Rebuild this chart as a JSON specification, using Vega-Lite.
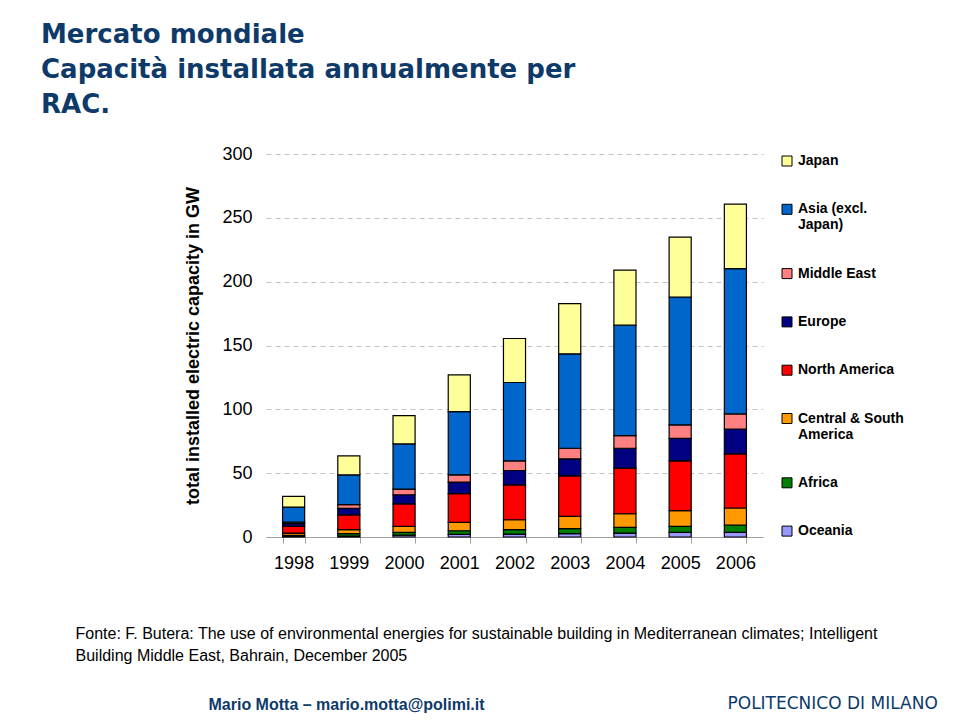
{
  "$schema": "https://vega.github.io/schema/vega-lite/v6.json",
  "width": 497,
  "height": 383,
  "autosize": {"type": "none"},
  "padding": {"left": 266, "top": 154, "right": 197, "bottom": 183},
  "background": "white",
  "title": {
    "text": ["Mercato mondiale", "Capacità installata annualmente per", "RAC."],
    "font": "DejaVu Sans",
    "fontSize": 26,
    "fontWeight": "bold",
    "color": "#0E3A6A",
    "anchor": "start",
    "frame": "group",
    "dx": -225,
    "offset": 27,
    "lineHeight": 35
  },
  "data": {
    "values": [
      {"year": "1998", "region": "Oceania", "k": 1, "value": 0.5},
      {"year": "1998", "region": "Africa", "k": 2, "value": 0.7},
      {"year": "1998", "region": "Central & South America", "k": 3, "value": 1.8},
      {"year": "1998", "region": "North America", "k": 4, "value": 5.3},
      {"year": "1998", "region": "Europe", "k": 5, "value": 2.1},
      {"year": "1998", "region": "Middle East", "k": 6, "value": 1.3},
      {"year": "1998", "region": "Asia (excl. Japan)", "k": 7, "value": 11.7},
      {"year": "1998", "region": "Japan", "k": 8, "value": 8.4},
      {"year": "1999", "region": "Oceania", "k": 1, "value": 0.8},
      {"year": "1999", "region": "Africa", "k": 2, "value": 1.8},
      {"year": "1999", "region": "Central & South America", "k": 3, "value": 3.1},
      {"year": "1999", "region": "North America", "k": 4, "value": 11.7},
      {"year": "1999", "region": "Europe", "k": 5, "value": 5.0},
      {"year": "1999", "region": "Middle East", "k": 6, "value": 2.9},
      {"year": "1999", "region": "Asia (excl. Japan)", "k": 7, "value": 23.4},
      {"year": "1999", "region": "Japan", "k": 8, "value": 14.8},
      {"year": "2000", "region": "Oceania", "k": 1, "value": 1.5},
      {"year": "2000", "region": "Africa", "k": 2, "value": 2.1},
      {"year": "2000", "region": "Central & South America", "k": 3, "value": 4.7},
      {"year": "2000", "region": "North America", "k": 4, "value": 17.7},
      {"year": "2000", "region": "Europe", "k": 5, "value": 7.1},
      {"year": "2000", "region": "Middle East", "k": 6, "value": 4.4},
      {"year": "2000", "region": "Asia (excl. Japan)", "k": 7, "value": 35.4},
      {"year": "2000", "region": "Japan", "k": 8, "value": 22.1},
      {"year": "2001", "region": "Oceania", "k": 1, "value": 2.0},
      {"year": "2001", "region": "Africa", "k": 2, "value": 2.9},
      {"year": "2001", "region": "Central & South America", "k": 3, "value": 6.6},
      {"year": "2001", "region": "North America", "k": 4, "value": 22.4},
      {"year": "2001", "region": "Europe", "k": 5, "value": 9.1},
      {"year": "2001", "region": "Middle East", "k": 6, "value": 5.7},
      {"year": "2001", "region": "Asia (excl. Japan)", "k": 7, "value": 49.5},
      {"year": "2001", "region": "Japan", "k": 8, "value": 28.8},
      {"year": "2002", "region": "Oceania", "k": 1, "value": 2.3},
      {"year": "2002", "region": "Africa", "k": 2, "value": 3.4},
      {"year": "2002", "region": "Central & South America", "k": 3, "value": 7.8},
      {"year": "2002", "region": "North America", "k": 4, "value": 27.4},
      {"year": "2002", "region": "Europe", "k": 5, "value": 11.2},
      {"year": "2002", "region": "Middle East", "k": 6, "value": 7.5},
      {"year": "2002", "region": "Asia (excl. Japan)", "k": 7, "value": 61.4},
      {"year": "2002", "region": "Japan", "k": 8, "value": 34.5},
      {"year": "2003", "region": "Oceania", "k": 1, "value": 2.6},
      {"year": "2003", "region": "Africa", "k": 2, "value": 3.9},
      {"year": "2003", "region": "Central & South America", "k": 3, "value": 9.6},
      {"year": "2003", "region": "North America", "k": 4, "value": 31.8},
      {"year": "2003", "region": "Europe", "k": 5, "value": 13.3},
      {"year": "2003", "region": "Middle East", "k": 6, "value": 8.3},
      {"year": "2003", "region": "Asia (excl. Japan)", "k": 7, "value": 74.0},
      {"year": "2003", "region": "Japan", "k": 8, "value": 39.3},
      {"year": "2004", "region": "Oceania", "k": 1, "value": 3.1},
      {"year": "2004", "region": "Africa", "k": 2, "value": 4.5},
      {"year": "2004", "region": "Central & South America", "k": 3, "value": 10.6},
      {"year": "2004", "region": "North America", "k": 4, "value": 35.7},
      {"year": "2004", "region": "Europe", "k": 5, "value": 15.6},
      {"year": "2004", "region": "Middle East", "k": 6, "value": 9.9},
      {"year": "2004", "region": "Asia (excl. Japan)", "k": 7, "value": 86.5},
      {"year": "2004", "region": "Japan", "k": 8, "value": 43.1},
      {"year": "2005", "region": "Oceania", "k": 1, "value": 3.6},
      {"year": "2005", "region": "Africa", "k": 2, "value": 4.7},
      {"year": "2005", "region": "Central & South America", "k": 3, "value": 12.3},
      {"year": "2005", "region": "North America", "k": 4, "value": 39.0},
      {"year": "2005", "region": "Europe", "k": 5, "value": 17.7},
      {"year": "2005", "region": "Middle East", "k": 6, "value": 10.5},
      {"year": "2005", "region": "Asia (excl. Japan)", "k": 7, "value": 100.2},
      {"year": "2005", "region": "Japan", "k": 8, "value": 46.9},
      {"year": "2006", "region": "Oceania", "k": 1, "value": 3.6},
      {"year": "2006", "region": "Africa", "k": 2, "value": 5.8},
      {"year": "2006", "region": "Central & South America", "k": 3, "value": 13.3},
      {"year": "2006", "region": "North America", "k": 4, "value": 42.4},
      {"year": "2006", "region": "Europe", "k": 5, "value": 19.5},
      {"year": "2006", "region": "Middle East", "k": 6, "value": 11.8},
      {"year": "2006", "region": "Asia (excl. Japan)", "k": 7, "value": 113.8},
      {"year": "2006", "region": "Japan", "k": 8, "value": 50.5}
    ]
  },
  "layer": [
    {
      "mark": {"type": "bar", "stroke": "black", "strokeWidth": 1.2},
      "encoding": {
        "x": {
          "field": "year",
          "type": "ordinal",
          "scale": {"paddingInner": 0.6, "paddingOuter": 0.3},
          "axis": {
            "orient": "bottom",
            "title": ["Fonte: F. Butera: The use of environmental energies for sustainable building in Mediterranean climates; Intelligent", "Building Middle East, Bahrain, December 2005"],
            "titleFont": "Liberation Sans",
            "titleFontSize": 16,
            "titleFontWeight": "normal",
            "titleColor": "black",
            "titleAlign": "left",
            "titleAnchor": "start",
            "titleBaseline": "top",
            "titleX": -191,
            "titleY": 88,
            "titleLineHeight": 22,
            "labelAngle": 0,
            "labelFont": "Liberation Sans",
            "labelFontSize": 18,
            "labelColor": "black",
            "labelPadding": 11,
            "tickBand": "extent",
            "tickSize": 6,
            "tickColor": "#a0a0a0",
            "domainColor": "#a0a0a0",
            "grid": false
          }
        },
        "y": {
          "field": "value",
          "type": "quantitative",
          "stack": "zero",
          "scale": {"domain": [0, 300], "nice": false},
          "axis": {
            "values": [0, 50, 100, 150, 200, 250, 300],
            "title": "total installed electric capacity in GW",
            "titleFont": "Liberation Sans",
            "titleFontSize": 18,
            "titleFontWeight": "bold",
            "titleColor": "black",
            "titlePadding": 19,
            "labelFont": "Liberation Sans",
            "labelFontSize": 18,
            "labelColor": "black",
            "labelPadding": 14,
            "domain": false,
            "ticks": false,
            "grid": true,
            "gridColor": "#c4c4c4",
            "gridDash": [5, 4],
            "gridWidth": 1
          }
        },
        "color": {
          "field": "region",
          "type": "nominal",
          "scale": {
            "domain": ["Japan", "Asia (excl. Japan)", "Middle East", "Europe", "North America", "Central & South America", "Africa", "Oceania"],
            "range": ["#FFFF99", "#0066CC", "#FF8080", "#000080", "#FF0000", "#FF9900", "#008000", "#9999FF"]
          },
          "legend": {
            "title": null,
            "orient": "right",
            "offset": 17,
            "symbolType": "square",
            "symbolSize": 100,
            "symbolStrokeColor": "black",
            "symbolStrokeWidth": 1,
            "labelFont": "Liberation Sans",
            "labelFontSize": 14,
            "labelFontWeight": "bold",
            "labelColor": "black",
            "labelOffset": 4,
            "labelLimit": 200,
            "rowPadding": 34.3,
            "labelExpr": "datum.label == 'Asia (excl. Japan)' ? ['Asia (excl.', 'Japan)'] : datum.label == 'Central & South America' ? ['Central & South', 'America'] : datum.label"
          }
        },
        "order": {"field": "k", "type": "quantitative", "sort": "ascending"}
      }
    },
    {
      "mark": {"type": "rule", "strokeWidth": 0, "opacity": 0},
      "encoding": {
        "x": {
          "field": "year",
          "type": "ordinal",
          "axis": {
            "orient": "bottom",
            "title": "Mario Motta  – mario.motta@polimi.it",
            "titleFont": "Liberation Sans",
            "titleFontSize": 16,
            "titleFontWeight": "bold",
            "titleColor": "#0E3A6A",
            "titleAlign": "left",
            "titleAnchor": "start",
            "titleBaseline": "top",
            "titleX": -58,
            "titleY": 159,
            "labels": false,
            "ticks": false,
            "domain": false,
            "grid": false
          }
        }
      }
    },
    {
      "mark": {"type": "rule", "strokeWidth": 0, "opacity": 0},
      "encoding": {
        "x": {
          "field": "year",
          "type": "ordinal",
          "axis": {
            "orient": "bottom",
            "title": "POLITECNICO DI MILANO",
            "titleFont": "DejaVu Sans",
            "titleFontSize": 17,
            "titleFontWeight": "normal",
            "titleColor": "#0E3A6A",
            "titleAlign": "left",
            "titleAnchor": "start",
            "titleBaseline": "top",
            "titleX": 461,
            "titleY": 158,
            "labels": false,
            "ticks": false,
            "domain": false,
            "grid": false
          }
        }
      }
    }
  ],
  "resolve": {"scale": {"x": "independent"}, "axis": {"x": "independent"}},
  "config": {
    "view": {"stroke": null},
    "font": "Liberation Sans"
  }
}
